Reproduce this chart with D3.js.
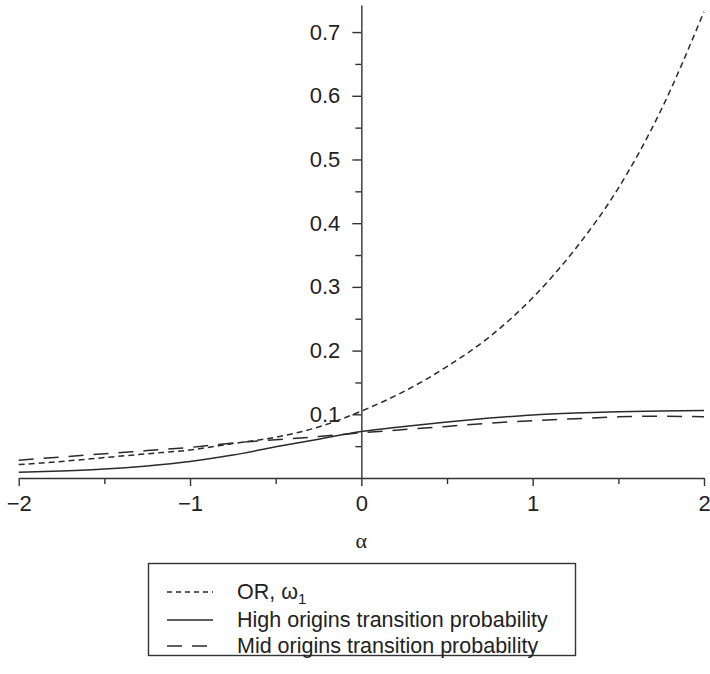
<!DOCTYPE html>
<html>
<head>
<meta charset="utf-8">
<script src="https://cdn.jsdelivr.net/npm/d3@7"></script>
<style>
  body { margin: 0; background: #fff; }
  svg { display: block; font-family: "Liberation Sans", Arial, sans-serif; }
  .axis text { font-size: 22px; fill: #222; }
  .axis path, .axis line { stroke: #333; stroke-width: 1.4; }
</style>
</head>
<body>
<svg width="710" height="674"></svg>
<script>
// alpha grid
var alphas = [-2, -1.75, -1.5, -1.25, -1, -0.75, -0.5, -0.25, 0, 0.25, 0.5, 0.75, 1, 1.25, 1.5, 1.75, 2];
// OR, omega_1
var orValues = [0.021, 0.026, 0.032, 0.038, 0.044, 0.054, 0.064, 0.080, 0.105, 0.136, 0.175, 0.222, 0.283, 0.360, 0.455, 0.578, 0.732];
// high origins transition probability
var highValues = [0.009, 0.011, 0.014, 0.019, 0.026, 0.036, 0.049, 0.061, 0.073, 0.081, 0.088, 0.094, 0.099, 0.102, 0.104, 0.105, 0.106];
// mid origins transition probability
var midValues = [0.028, 0.033, 0.038, 0.043, 0.048, 0.055, 0.060, 0.065, 0.071, 0.076, 0.081, 0.086, 0.090, 0.093, 0.096, 0.097, 0.096];

var xTicks = [-2, -1, 0, 1, 2];
var xMinor = [-1.5, -0.5, 0.5, 1.5];
var yTicks = [0.1, 0.2, 0.3, 0.4, 0.5, 0.6, 0.7];
var yMinor = [0.05, 0.15, 0.25, 0.35, 0.45, 0.55, 0.65];

var series = [
  { name: "OR, ω", sub: "1", values: orValues, dash: "6,4" },
  { name: "High origins transition probability", values: highValues, dash: null },
  { name: "Mid origins transition probability", values: midValues, dash: "15,10" }
];

var svg = d3.select("svg");

var x = d3.scaleLinear().domain([-2, 2]).range([18.7, 704]);
var y = d3.scaleLinear().domain([0, 0.7425]).range([478, 5]);

// x axis
svg.append("g")
  .attr("class", "axis axis--x")
  .attr("transform", "translate(0," + y(0) + ")")
  .call(d3.axisBottom(x).tickValues(xMinor).tickSize(6).tickSizeOuter(0).tickFormat(""))
  .call(function(g) { g.select(".domain").remove(); });

svg.append("g")
  .attr("class", "axis axis--x")
  .attr("transform", "translate(0," + y(0) + ")")
  .call(d3.axisBottom(x).tickValues(xTicks).tickSize(8).tickSizeOuter(0).tickPadding(9).tickFormat(d3.format("d")))
  .selectAll("text").attr("dy", "0.71em");

// y axis at alpha = 0
svg.append("g")
  .attr("class", "axis axis--y")
  .attr("transform", "translate(" + x(0) + ",0)")
  .call(d3.axisLeft(y).tickValues(yMinor).tickSize(6).tickSizeOuter(0).tickFormat(""))
  .call(function(g) { g.select(".domain").remove(); });

svg.append("g")
  .attr("class", "axis axis--y")
  .attr("transform", "translate(" + x(0) + ",0)")
  .call(d3.axisLeft(y).tickValues(yTicks).tickSize(9).tickSizeOuter(0).tickPadding(12).tickFormat(d3.format(".1f")));

// x label
svg.append("text")
  .attr("x", x(0))
  .attr("y", 548)
  .attr("text-anchor", "middle")
  .style("font-family", "'Liberation Serif', serif")
  .style("font-size", "22px")
  .style("fill", "#222")
  .text("α");

// curves
var line = d3.line()
  .x(function(d, i) { return x(alphas[i]); })
  .y(function(d) { return y(d); })
  .curve(d3.curveMonotoneX);

svg.selectAll(".curve")
  .data(series)
  .enter().append("path")
    .attr("class", "curve")
    .attr("fill", "none")
    .attr("stroke", "#2a2a2a")
    .attr("stroke-width", 1.5)
    .attr("stroke-dasharray", function(d) { return d.dash; })
    .attr("d", function(d) { return line(d.values); });

// legend
var legend = svg.append("g").attr("class", "legend");
legend.append("rect")
  .attr("x", 148.5).attr("y", 563.5)
  .attr("width", 427).attr("height", 92)
  .attr("fill", "none").attr("stroke", "#333").attr("stroke-width", 1.4);

var item = legend.selectAll(".item")
  .data(series)
  .enter().append("g")
    .attr("class", "item")
    .attr("transform", function(d, i) { return "translate(0," + [592, 620, 646][i] + ")"; });

item.append("line")
  .attr("x1", 167).attr("x2", 213)
  .attr("stroke", "#2a2a2a").attr("stroke-width", 1.5)
  .attr("stroke-dasharray", function(d, i) { return i === 0 ? "5,4" : d.dash; });

var label = item.append("text")
  .attr("x", 237)
  .attr("y", 7)
  .style("font-size", "21.5px")
  .style("fill", "#222")
  .text(function(d) { return d.name; });

label.filter(function(d) { return d.sub; })
  .append("tspan")
    .attr("dy", 5)
    .style("font-size", "15px")
    .text(function(d) { return d.sub; });
</script>
</body>
</html>
